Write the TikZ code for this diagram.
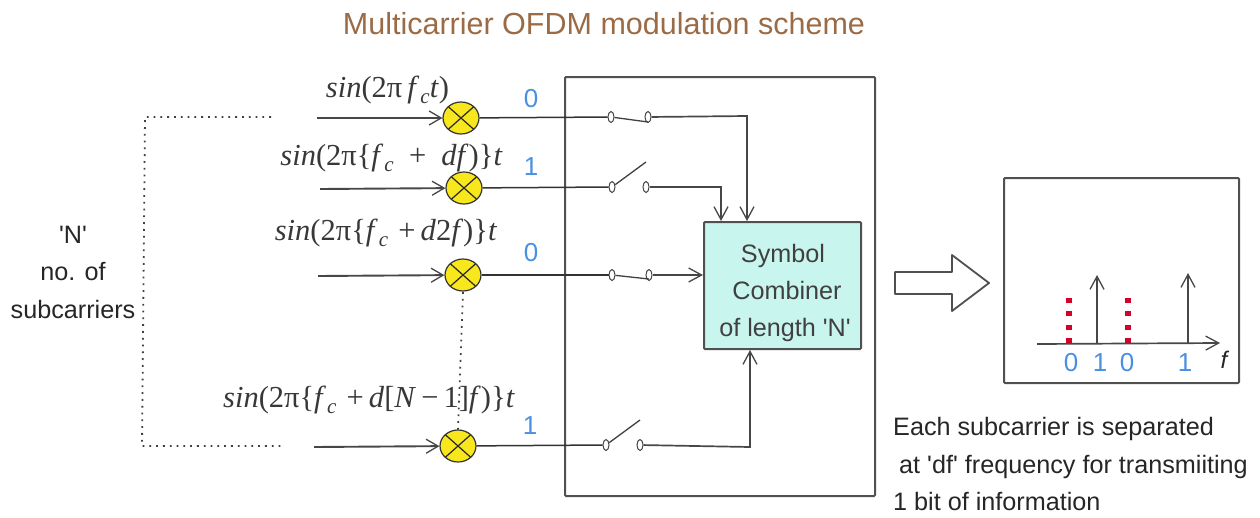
\documentclass[tikz,border=0pt]{standalone}
\usepackage{fontspec}
\setmainfont{Liberation Sans}
\newfontfamily\eqfont{Liberation Serif}
\usetikzlibrary{arrows.meta,shapes.geometric}
\definecolor{linegray}{HTML}{505050}
\definecolor{titlebrown}{HTML}{9A6B45}
\definecolor{bitblue}{HTML}{4A90E2}
\definecolor{boxteal}{HTML}{C8F6EE}
\definecolor{dotred}{HTML}{D6002A}
\definecolor{mixyellow}{HTML}{F8E71C}
\newcommand{\fsub}{\textit{f}\kern1pt\raisebox{-0.2em}{\fontsize{21}{21}\selectfont\textit{c}}}
\newcommand{\qq}{\textquotesingle}
\tikzset{
  x=1pt,y=-1pt,
  wire/.style={draw=black!80,line width=1.5pt},
  inwire/.style={draw=black!72,line width=1.9pt,-{Straight Barb[length=12pt,width=14pt,line width=1.3pt]}},
  outarrow/.style={draw=black!72,line width=1.7pt,-{Straight Barb[length=13pt,width=14pt,line width=1.3pt]}},
  box/.style={draw=linegray,line width=2pt,rounded corners=1pt},
  mixer/.style={ellipse,draw=black!80,fill=mixyellow,line width=1.2pt,minimum width=36pt,minimum height=32pt,inner sep=0pt,
    path picture={\draw[black!85,line width=1.2pt]
      (path picture bounding box.south west)--(path picture bounding box.north east)
      (path picture bounding box.north west)--(path picture bounding box.south east);}},
  contact/.style={ellipse,draw=black!72,fill=white,line width=1pt,minimum width=6pt,minimum height=11pt,inner sep=0pt},
  blade/.style={draw=black!75,line width=1.3pt},
  dotline/.style={draw=black!75,line width=1.8pt,dash pattern=on 1.8pt off 5pt},
  eq/.style={inner sep=0pt,anchor=base,text=black!78,font=\eqfont\fontsize{30.5}{30.5}\selectfont},
  bit/.style={inner sep=0pt,text=bitblue,font=\fontsize{26}{26}\selectfont},
  plain/.style={inner sep=0pt,anchor=base,text=black!85,font=\fontsize{25.2}{25.2}\selectfont},
  reddots/.style={draw=dotred,line width=5.5pt,dash pattern=on 5pt off 8.3pt},
}
\begin{document}
\begin{tikzpicture}
\useasboundingbox (0,0) rectangle (1260,517);
\node[inner sep=0pt,anchor=base,text=titlebrown,font=\fontsize{30.5}{30.5}\selectfont] (title) at (604,34) {Multicarrier OFDM modulation scheme};
% boxes
\node[box,minimum width=310pt,minimum height=419pt,inner sep=0pt] (outer) at (720,286.5) {};
\node[box,fill=boxteal,minimum width=157pt,minimum height=127pt,inner sep=0pt] (comb) at (782.5,285.5) {};
\node[plain,text=black!75] (c1) at (783,262) {Symbol};
\node[plain,text=black!75] (c2) at (787,299) {Combiner};
\node[plain,text=black!75] (c3) at (785,336) {of length \qq N\qq};
% mixers
\node[mixer] (m1) at (461,118) {};
\node[mixer] (m2) at (464,188) {};
\node[mixer] (m3) at (463,275) {};
\node[mixer] (m4) at (458,446) {};
\coordinate (i1) at (317,118);
\coordinate (i2) at (320,189);
\coordinate (i3) at (318,276);
\coordinate (i4) at (314,447);
\draw[inwire] (i1) -- (m1);
\draw[inwire] (i2) -- (m2);
\draw[inwire] (i3) -- (m3);
\draw[inwire] (i4) -- (m4);
% equations
\node[eq] (e1) at (387.5,97) {\textit{sin}(2π\,\fsub\textit{t})};
\node[eq] (e2) at (391.5,165) {\textit{sin}(2π\{\fsub\,\,\,+\,\,\,\textit{df})\}\textit{t}};
\node[eq] (e3) at (386,240) {\textit{sin}(2π\{\fsub\,\,+\,\textit{d}2\textit{f})\}\textit{t}};
\node[eq] (e4) at (369,407) {\textit{sin}(2π\{\fsub\,\,+\,\textit{d}[\textit{N}\,−\,1]\textit{f})\}\textit{t}};
% switch contacts
\node[contact] (a1) at (611,117) {};
\node[contact] (b1) at (648,117) {};
\node[contact] (a2) at (612,187) {};
\node[contact] (b2) at (646,187) {};
\node[contact] (a3) at (612,275) {};
\node[contact] (b3) at (649,275) {};
\node[contact] (a4) at (606,445) {};
\node[contact] (b4) at (640,445) {};
\coordinate (t1) at (648,122);
\coordinate (t2) at (646,162);
\coordinate (t3) at (649,279);
\coordinate (t4) at (640,420);
\draw[blade] (a1) -- (t1);
\draw[blade] (a2) -- (t2);
\draw[blade] (a3) -- (t3);
\draw[blade] (a4) -- (t4);
\draw[wire] (m1) -- (a1);
\draw[wire] (m2) -- (a2);
\draw[wire] (m3) -- (a3);
\draw[wire] (m4) -- (a4);
\coordinate (k1) at (747,116);
\coordinate (k2) at (721,187);
\coordinate (k4) at (750,447);
\draw[outarrow] (b1) -- (k1) -- (k1 |- comb.north);
\draw[outarrow] (b2) -- (k2) -- (k2 |- comb.north);
\draw[outarrow] (b3) -- (comb.west |- b3);
\draw[outarrow] (b4) -- (k4) -- (k4 |- comb.south);
% bits
\node[bit] (b0a) at (531,99) {0};
\node[bit] (b1a) at (531,167) {1};
\node[bit] (b2a) at (531,253) {0};
\node[bit] (b3a) at (530,426) {1};
% dotted lines
\coordinate (d1) at (271,117);
\coordinate (d2) at (145,117);
\coordinate (d3) at (142,446);
\coordinate (d4) at (283,446);
\draw[dotline] (d1) -- (d2) -- (d3) -- (d4);
\draw[dotline] (m3) ++(0,17) coordinate (d5) -- (m4 |- 0,430) coordinate (d6);
% left text
\node[plain] (n1) at (73,243) {\qq N\qq};
\node[plain] (n2) at (73,280) {no. of};
\node[plain] (n3) at (73,318) {subcarriers};
% big arrow
\draw[draw=linegray,line width=1.8pt,fill=white,line join=round] (895,272) -- (952,272) -- (952,255) -- (989,283) -- (952,311) -- (952,294) -- (895,294) -- cycle;
% spectrum
\node[box,minimum width=235pt,minimum height=205pt,inner sep=0pt] (spec) at (1121.5,280.5) {};
\coordinate (x0) at (1037,344);
\coordinate (x1) at (1220,343);
\coordinate (p1) at (1097,344);
\coordinate (q1) at (1097,275);
\coordinate (p2) at (1188,343);
\coordinate (q2) at (1188,273);
\coordinate (r1) at (1069,343);
\coordinate (r1t) at (1069,296);
\coordinate (r2) at (1128,343);
\coordinate (r2t) at (1128,297);
\draw[reddots] (r1) -- (r1t);
\draw[reddots] (r2) -- (r2t);
\draw[outarrow] (p1) -- (q1);
\draw[outarrow] (p2) -- (q2);
\draw[outarrow] (x0) -- (x1);
\node[bit] (s0) at (1071,363) {0};
\node[bit] (s1) at (1100,363) {1};
\node[bit] (s2) at (1127,363) {0};
\node[bit] (s3) at (1185,363) {1};
\node[inner sep=0pt,text=black!85,font=\fontsize{24}{24}\selectfont\itshape] (sf) at (1224,360) {f};
% caption
\node[plain,anchor=base west] (t1n) at (893,435) {Each subcarrier is separated};
\node[plain,anchor=base west] (t2n) at (899,473) {at \qq df\qq\ frequency for transmiiting};
\node[plain,anchor=base west] (t3n) at (893,510) {1 bit of information};
\end{tikzpicture}
\end{document}
